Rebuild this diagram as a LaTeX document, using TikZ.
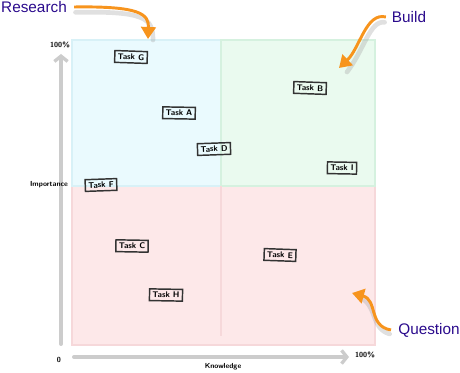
\documentclass[tikz,border=0pt]{standalone}
\usepackage{fontspec}
\setmainfont{Liberation Sans}
\usetikzlibrary{arrows.meta}

\definecolor{researchfill}{HTML}{EAFAFE}
\definecolor{researchline}{HTML}{D8F1F7}
\definecolor{buildfill}{HTML}{EAFAEF}
\definecolor{buildline}{HTML}{D5F1DF}
\definecolor{questionfill}{HTML}{FDE8E9}
\definecolor{questionline}{HTML}{F6D8DA}
\definecolor{axisgray}{HTML}{CCCCCC}
\definecolor{calloutorange}{HTML}{F7941D}
\definecolor{calloutblue}{HTML}{2A0A8C}

\tikzset{
    task/.style={draw=black!80, line width=1.1pt, inner sep=2.2pt,
        font=\sffamily\bfseries\fontsize{6.2}{7}\selectfont},
    axislabel/.style={font=\sffamily\bfseries\fontsize{5.5}{6}\selectfont},
    axis/.style={draw=axisgray, line width=3pt, line cap=round,
        -{Straight Barb[length=4pt,width=10pt,line width=2.5pt]}},
    callout/.style={font=\fontsize{11.5}{13}\selectfont, text=calloutblue},
    pointer/.style={draw=calloutorange, line width=2.2pt,
        -{Triangle[length=9pt,width=11pt]}},
    pointershadow/.style={draw=black!35, line width=3.5pt, opacity=0.35,
        line cap=round},
}

\begin{document}
\begin{tikzpicture}[x=0.75pt, y=-0.75pt]
    \useasboundingbox (0,0) rectangle (460,373);

    % quadrants
    \filldraw[fill=questionfill, draw=questionline, line width=1pt]
        (72,186) rectangle (375,345);
    \filldraw[fill=researchfill, draw=researchline, line width=1pt]
        (72,40) rectangle (221,186);
    \filldraw[fill=buildfill, draw=buildline, line width=1pt]
        (221,40) rectangle (375,186);
    \draw[questionline, line width=0.8pt] (221,186) -- (221,336);

    % axes
    \coordinate (origin) at (61,344);
    \coordinate (ytop) at (61,54);
    \coordinate (xstart) at (74,357);
    \coordinate (xend) at (349,357);
    \draw[axis] (origin) -- (ytop);
    \draw[axis] (xstart) -- (xend);
    \node[axislabel] (ymax) at (60,45) {100\%};
    \node[axislabel] (zero) at (59,360) {0};
    \node[axislabel] (xmax) at (365,355) {100\%};
    \node[axislabel] (ylabel) at (49,185) {Importance};
    \node[axislabel] (xlabel) at (223,367) {Knowledge};

    % tasks
    \node[task, rotate=-2] (taskG) at (131,57) {Task G};
    \node[task, rotate=-1] (taskA) at (179,113) {Task A};
    \node[task, rotate=2] (taskD) at (214,149) {Task D};
    \node[task, rotate=-2] (taskB) at (310,88) {Task B};
    \node[task, rotate=-1] (taskI) at (342,168) {Task I};
    \node[task, rotate=2] (taskF) at (101,185) {Task F};
    \node[task, rotate=-1] (taskC) at (132,246) {Task C};
    \node[task, rotate=-2] (taskE) at (280,255) {Task E};
    \node[task, rotate=-1] (taskH) at (166,295) {Task H};

    % callouts
    \node[callout] (research) at (34,7) {Research};
    \node[callout] (build) at (409,17) {Build};
    \node[callout] (question) at (429,330) {Question};

    \coordinate (researchtip) at (148,39);
    \coordinate (buildtip) at (339,68);
    \coordinate (questiontip) at (352,293);

    \draw[pointershadow] ([xshift=3pt,yshift=-4pt]research.east)
        .. controls (145,11) and (153,18) .. (153,40);
    \draw[pointer] ([xshift=2pt]research.east)
        .. controls (140,6) and (149,14) .. (researchtip);

    \draw[pointershadow] ([xshift=-2pt,yshift=-4pt]build.west)
        .. controls (370,20) and (364,50) .. (347,72);
    \draw[pointer] ([xshift=-1pt]build.west)
        .. controls (366,12) and (360,48) .. (buildtip);

    \draw[pointershadow] ([xshift=-3pt,yshift=-3pt]question.west)
        .. controls (370,328) and (378,305) .. (359,297);
    \draw[pointer] ([xshift=-2pt]question.west)
        .. controls (368,326) and (378,300) .. (questiontip);
\end{tikzpicture}
\end{document}
